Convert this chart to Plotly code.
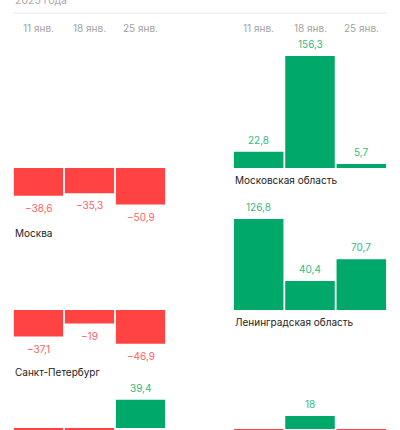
import plotly.graph_objects as go

W, H = 400, 430

weeks = ["11 янв.", "18 янв.", "25 янв."]
regions = ["Москва", "Московская область",
           "Санкт-Петербург", "Ленинградская область",
           "", ""]
moscow = [-38.6, -35.3, -50.9]
moscow_obl = [22.8, 156.3, 5.7]
spb = [-37.1, -19, -46.9]
len_obl = [126.8, 40.4, 70.7]
row3_left = [-25, -30, 39.4]
row3_right = [-30, 18, -25]
series = [moscow, moscow_obl, spb, len_obl, row3_left, row3_right]

GREEN, GREEN_TXT = "#00a869", "#34b97f"
RED, RED_TXT = "#ff4343", "#ff6262"
FONT = "Inter"

K = 0.717                      # px per unit
zero_px = [168, 168, 310, 310, 428, 429]
col_px = [(13, 166), (233, 387)]


def px_x(p):
    return p / W


def px_y(p):
    return 1 - p / H


def fmt(v):
    s = ("%g" % abs(v)).replace(".", ",")
    return ("−" + s) if v < 0 else s


fig = go.Figure()
layout = {}
annotations = []

for i, vals in enumerate(series):
    n = i + 1
    col = i % 2
    xa, ya = "x%d" % n, "y%d" % n
    fig.add_trace(go.Bar(
        x=weeks, y=vals, xaxis=xa, yaxis=ya,
        marker=dict(color=[GREEN if v >= 0 else RED for v in vals], line_width=0),
        hoverinfo="skip", showlegend=False,
    ))
    z = zero_px[i]
    layout["xaxis%d" % n] = dict(
        domain=[px_x(col_px[col][0]), px_x(col_px[col][1])], anchor=ya,
        visible=False, type="category", range=[-0.5, 2.5], fixedrange=True)
    layout["yaxis%d" % n] = dict(
        domain=[0, 1], anchor=xa, visible=False,
        range=[-(H - z) / K, z / K], fixedrange=True)

    for w, v in zip(weeks, vals):
        annotations.append(dict(
            xref=xa, yref=ya, x=w, y=v, text=fmt(v), showarrow=False,
            yanchor="middle", yshift=12 if v >= 0 else -12,
            font=dict(family=FONT, size=10, color=GREEN_TXT if v >= 0 else RED_TXT)))

    if regions[i]:
        low = min(0, min(vals))
        annotations.append(dict(
            xref="paper", yref=ya, x=px_x(col_px[col][0]), y=low,
            text=regions[i], showarrow=False, xanchor="left", yanchor="middle",
            yshift=-28 if low < 0 else -12,
            font=dict(family=FONT, size=10, color="#222222")))

# week labels on top of both columns
for n in (1, 2):
    for w in weeks:
        annotations.append(dict(
            xref="x%d" % n, yref="paper", x=w, y=px_y(28), text=w,
            showarrow=False, yanchor="middle",
            font=dict(family=FONT, size=10, color="#a3a3a3")))

# subtitle, cut by the top edge as in the source screenshot
annotations.append(dict(
    xref="paper", yref="paper", x=px_x(13), y=px_y(0), text="2025 года",
    showarrow=False, xanchor="left", yanchor="middle",
    font=dict(family=FONT, size=10.5, color="#aaaaaa")))

fig.update_layout(
    **layout,
    width=W, height=H,
    margin=dict(l=0, r=0, t=0, b=0, pad=0, autoexpand=False),
    paper_bgcolor="white", plot_bgcolor="rgba(0,0,0,0)",
    bargap=0.035,
    annotations=annotations,
    shapes=[dict(type="line", xref="paper", yref="paper",
                 x0=px_x(13), x1=px_x(387), y0=px_y(13), y1=px_y(13),
                 line=dict(color="#ebebeb", width=1))],
)

fig.write_html("out.html", config={"displayModeBar": False},
               post_script="document.body.style.margin = '0';")
